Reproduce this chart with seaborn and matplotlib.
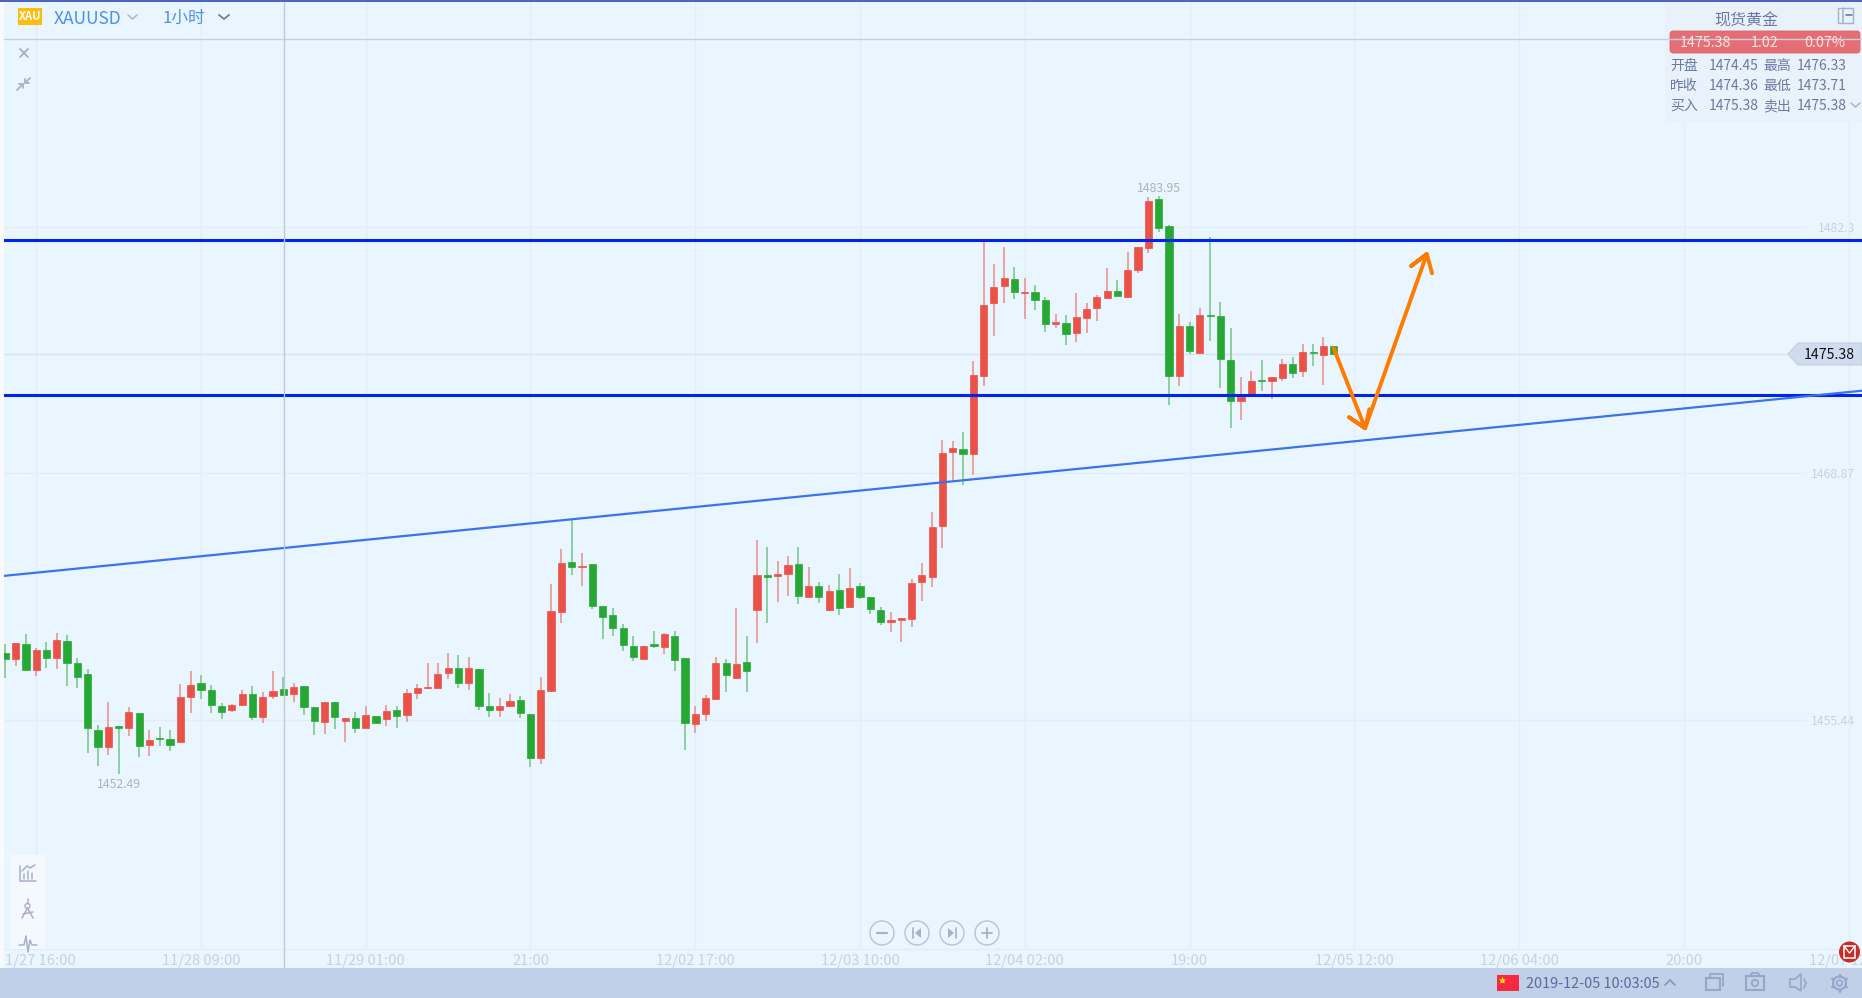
import numpy as np
import pandas as pd
import matplotlib
matplotlib.use("Agg")
import matplotlib.pyplot as plt
from matplotlib.patches import Rectangle, FancyBboxPatch, Polygon, Ellipse, Circle
import seaborn as sns

# XAUUSD 1h candles
open_px = [1459.11,1458.75,1459.60,1458.17,1459.27,1458.80,1459.76,1458.56,1457.97,1454.92,
           1453.96,1455.14,1454.99,1455.84,1454.06,1454.48,1454.43,1454.23,1456.68,1457.48,
           1457.09,1456.19,1455.97,1456.24,1456.88,1455.59,1456.73,1457.15,1456.84,1457.31,
           1456.17,1455.32,1456.41,1455.37,1455.57,1454.99,1455.68,1455.50,1456.01,1455.72,
           1456.91,1457.17,1457.17,1457.98,1458.29,1457.44,1458.24,1456.22,1455.97,1456.19,
           1456.55,1455.79,1453.36,1457.00,1461.32,1464.03,1463.75,1463.95,1461.67,1461.18,
           1460.47,1459.49,1458.78,1459.56,1459.40,1460.02,1458.84,1455.21,1455.75,1456.59,
           1458.57,1457.75,1458.62,1461.41,1463.36,1463.27,1463.37,1463.96,1462.12,1462.76,
           1461.41,1462.54,1461.58,1462.76,1462.16,1461.45,1460.76,1460.87,1460.94,1462.96,
           1463.21,1466.01,1470.02,1470.18,1469.91,1474.16,1478.13,1479.06,1479.47,1478.68,
           1478.77,1478.33,1476.99,1477.08,1476.50,1477.32,1477.86,1478.40,1478.82,1478.49,
           1479.93,1481.13,1483.83,1482.31,1474.18,1476.92,1475.45,1477.51,1477.46,1475.06,
           1472.80,1473.12,1473.98,1473.89,1474.05,1474.85,1474.43,1475.50,1475.32,1475.83]
high_px = [1459.58,1459.65,1460.11,1459.35,1459.67,1460.16,1460.05,1458.80,1458.20,1455.15,
           1456.42,1455.14,1456.13,1455.84,1454.88,1455.04,1454.88,1457.39,1458.09,1457.88,
           1457.33,1456.35,1456.30,1457.06,1457.28,1456.95,1458.09,1457.77,1457.44,1457.31,
           1456.17,1456.44,1456.41,1455.57,1455.86,1456.19,1455.68,1456.24,1456.21,1457.11,
           1457.40,1458.53,1458.53,1459.07,1458.96,1458.86,1458.24,1456.90,1456.62,1456.84,
           1456.73,1455.79,1457.77,1462.83,1464.73,1466.33,1464.52,1463.95,1461.67,1461.52,
           1460.65,1460.02,1459.49,1460.29,1460.16,1460.29,1458.84,1456.21,1456.79,1458.86,
           1458.77,1461.54,1460.02,1465.23,1464.84,1464.10,1464.37,1464.84,1463.76,1462.94,
           1462.78,1463.37,1463.70,1462.88,1462.16,1461.58,1461.31,1460.98,1463.12,1463.97,
           1466.75,1470.69,1470.64,1471.11,1474.99,1481.49,1480.27,1481.20,1480.11,1479.51,
           1479.11,1478.49,1477.55,1477.50,1478.69,1478.13,1478.57,1480.06,1479.38,1480.93,
           1481.18,1483.90,1483.95,1482.38,1477.53,1477.10,1477.88,1481.72,1478.19,1476.77,
           1474.12,1474.43,1475.05,1474.12,1475.10,1475.19,1475.92,1475.92,1476.28,1475.83]
low_px = [1457.75,1458.40,1458.17,1457.86,1458.29,1458.24,1457.31,1457.20,1453.67,1452.96,
          1453.56,1452.49,1454.59,1453.45,1453.50,1454.05,1453.77,1454.17,1455.84,1456.59,
          1455.84,1455.52,1455.90,1456.22,1455.46,1455.30,1456.60,1456.79,1456.44,1455.73,
          1454.65,1454.70,1454.97,1454.26,1454.75,1454.99,1455.24,1455.14,1455.03,1455.35,
          1456.60,1457.15,1457.15,1457.68,1457.20,1457.09,1456.01,1455.63,1455.63,1456.13,
          1455.57,1452.90,1453.07,1456.99,1460.74,1463.36,1462.76,1461.50,1459.87,1460.03,
          1459.20,1458.67,1458.78,1459.38,1459.04,1458.13,1453.81,1454.74,1455.41,1456.55,
          1456.97,1457.69,1456.97,1459.64,1460.73,1461.87,1462.20,1461.76,1462.12,1461.81,
          1461.40,1461.16,1461.56,1462.03,1461.22,1460.62,1460.24,1459.69,1460.51,1461.92,
          1462.69,1464.81,1468.42,1468.24,1468.79,1473.63,1476.37,1478.17,1478.37,1477.28,
          1477.77,1476.57,1476.81,1475.86,1476.03,1476.52,1477.17,1478.40,1478.51,1478.49,
          1479.80,1480.89,1482.03,1472.60,1473.63,1475.39,1475.45,1476.08,1473.52,1471.36,
          1471.78,1473.12,1473.36,1472.92,1473.92,1474.07,1474.12,1474.74,1473.69,1475.38]
close_px = [1458.75,1459.65,1458.17,1459.27,1458.80,1459.82,1458.53,1457.77,1454.99,1453.96,
            1455.08,1455.01,1455.90,1454.01,1454.37,1454.39,1454.06,1456.71,1457.37,1457.06,
            1456.26,1455.90,1456.26,1456.88,1455.59,1456.71,1457.02,1456.79,1457.26,1456.13,
            1455.37,1456.44,1455.59,1455.57,1454.99,1455.73,1455.28,1455.95,1455.64,1456.93,
            1457.20,1457.26,1457.97,1458.29,1457.44,1458.29,1456.21,1455.97,1456.22,1456.50,
            1455.81,1453.36,1457.08,1461.38,1464.01,1463.75,1463.85,1461.65,1461.05,1460.45,
            1459.51,1458.87,1459.49,1459.46,1460.11,1458.69,1455.28,1455.79,1456.66,1458.57,
            1457.89,1458.51,1458.09,1463.36,1463.23,1463.41,1463.90,1462.20,1462.76,1462.14,
            1462.49,1461.52,1462.65,1462.12,1461.47,1460.76,1460.91,1460.98,1462.92,1463.36,
            1465.97,1470.00,1470.27,1469.91,1474.25,1478.06,1479.04,1479.53,1478.73,1478.77,
            1478.31,1477.01,1477.13,1476.44,1477.41,1477.84,1478.49,1478.82,1478.51,1479.96,
            1481.18,1483.72,1482.23,1474.18,1476.92,1475.52,1477.51,1477.44,1475.10,1472.81,
            1473.01,1473.92,1473.89,1474.10,1474.85,1474.32,1475.50,1475.41,1475.83,1475.38]

x_tick_pos = [3, 19, 35, 51, 67, 83, 99, 115, 131, 147, 163, 179]
x_tick_labels = ["11/27 16:00", "11/28 09:00", "11/29 01:00", "21:00", "12/02 17:00", "12/03 10:00",
                 "12/04 02:00", "19:00", "12/05 12:00", "12/06 04:00", "20:00", "12/07 12:00"]
y_ticks = [1482.3, 1468.87, 1455.44]
last_price = 1475.38
levels = [1481.56, 1473.12]
trend_x = [-0.13, 180.3]
trend_y = [1463.29, 1473.37]
arrow_down_x = [129.0, 132.05, 130.5, 132.05, 132.46]
arrow_down_y = [1475.68, 1471.33, 1471.92, 1471.33, 1472.36]
arrow_up_x = [132.05, 138.04, 136.52, 138.04, 138.55]
arrow_up_y = [1471.33, 1480.81, 1480.16, 1480.81, 1479.76]

BG = "#eaf6ff"
GRID = "#e4edf5"
UP = "#ea5147"
DOWN = "#27a834"
UP_WICK = "#ea9d9a"
DOWN_WICK = "#86cc98"
TICK = "#c6d1e2"
PANEL_TEXT = "#6b7aa5"
ICON = "#a5b0cd"

sns.set_theme(style="white")
plt.rcParams["font.family"] = ["Noto Sans CJK SC", "DejaVu Sans"]

df = pd.DataFrame({"open": open_px, "high": high_px, "low": low_px, "close": close_px})
df["i"] = df.index
df["up"] = df["close"] > df["open"]

fig = plt.figure(figsize=(18.62, 9.98), dpi=100, facecolor=BG)
ax = fig.add_axes([0, 0, 1, 1], facecolor=BG)
ax.set_xlim(-0.515, 180.3)
ax.set_ylim(1440.31, 1494.64)
sns.despine(ax=ax, left=True, bottom=True)

# grid stops short of the price scale
grid_bottom = 1442.98
ax.vlines(x_tick_pos, grid_bottom, 1494.6, color=GRID, lw=1, zorder=1)
ax.hlines(y_ticks, -0.13, 174.9, color=GRID, lw=1, zorder=1)
ax.hlines(last_price, -0.13, 174.9, color="#d9e3ee", lw=1, zorder=1)
ax.hlines(grid_bottom, -0.13, 180.3, color=GRID, lw=1, zorder=1)

# candles
ax.vlines(df["i"], df["low"], df["high"], color=df["up"].map({True: UP_WICK, False: DOWN_WICK}), lw=1.3, zorder=2)
body_low = df[["open", "close"]].min(axis=1)
body_high = df[["open", "close"]].max(axis=1)
ax.bar(df["i"], body_high - body_low, bottom=body_low, width=0.7,
       color=df["up"].map({True: UP, False: DOWN}), edgecolor=df["up"].map({True: UP, False: DOWN}), lw=0.5, zorder=3)

# drawn lines
for lv in levels:
    sns.lineplot(x=[-0.13, 180.3], y=[lv, lv], color="#0024f0", lw=2.2, ax=ax, zorder=4)
sns.lineplot(x=trend_x, y=trend_y, color="#3a73f2", lw=1.6, ax=ax, zorder=4)
sns.lineplot(x=arrow_down_x, y=arrow_down_y, sort=False, estimator=None, color="#ff7b00", lw=2.8, ax=ax, zorder=5)
sns.lineplot(x=arrow_up_x, y=arrow_up_y, sort=False, estimator=None, color="#ff7b00", lw=2.8, ax=ax, zorder=5)

# ticks sit inside the picture
ax.set_xticks(x_tick_pos, x_tick_labels)
ax.yaxis.tick_right()
ax.set_yticks(y_ticks, [str(v) for v in y_ticks])
ax.tick_params(axis="x", length=0, pad=-32, labelsize=10.6, labelcolor=TICK)
ax.tick_params(axis="y", length=0, pad=-5, labelsize=8.8, labelcolor=TICK)
for t in ax.get_yticklabels():
    t.set_ha("right")

ax.text(df["i"][112], 1484.0, "1483.95", ha="center", va="bottom", fontsize=8.8, color="#adb2b8", zorder=6)
ax.text(df["i"][11], 1452.27, "1452.49", ha="center", va="top", fontsize=8.8, color="#adb2b8", zorder=6)

# window furniture, in pixels
ui = fig.add_axes([0, 0, 1, 1], facecolor="none", zorder=5)
ui.set_xlim(0, 1862)
ui.set_ylim(998, 0)
ui.axis("off")

def line(xs, ys, color=ICON, lw=1.1):
    ui.plot(xs, ys, color=color, lw=lw, solid_capstyle="round")

ui.add_patch(Rectangle((0, 0), 4, 968, fc="#f7fbfe", ec="none"))
ui.add_patch(Rectangle((0, 0), 1862, 2, fc="#4f63c0", ec="none"))
ui.add_patch(Rectangle((0, 968), 1862, 30, fc="#c1cfe8", ec="none"))
line([4, 1862], [39, 39], "#c5cfe0", 1)
line([283.5, 283.5], [2, 967], "#bcc8d8", 1)

# header
ui.add_patch(Rectangle((18, 8), 24, 17, fc="#fdbd10", ec="none"))
ui.text(30, 16.5, "XAU", ha="center", va="center", fontsize=8, fontweight="bold", color="white")
ui.text(54, 18.5, "XAUUSD", ha="left", va="center", fontsize=12.5, color="#4a90ee")
line([128, 132.5, 137], [15, 19, 15], "#a9b4c8")
ui.text(163, 18.5, "1小时", ha="left", va="center", fontsize=12, color="#4a90ee")
line([219, 224, 229], [15, 19, 15], "#6f7c95", 1.3)
line([20, 28], [49, 57], ICON, 1.3)
line([20, 28], [57, 49], ICON, 1.3)
# compress arrows
line([17, 23], [90, 84], ICON, 1.3)
line([19, 23, 23], [84, 84, 88], ICON, 1.3)
line([25, 30], [83, 78], ICON, 1.3)
line([25, 25, 29], [79, 83, 83], ICON, 1.3)

# quote panel
ui.add_patch(Rectangle((1665, 2), 197, 120, fc="#e9f1fa", ec="none"))
ui.text(1746, 21.5, "现货黄金", ha="center", va="center", fontsize=11.5, color=PANEL_TEXT)
ui.add_patch(Rectangle((1838, 8), 15, 15, fc="none", ec=ICON, lw=1))
line([1843, 1843], [8, 23])
line([1846, 1852], [15, 15], "#5f6e9a")
ui.add_patch(FancyBboxPatch((1672, 33), 186, 18, boxstyle="round,pad=2,rounding_size=3", fc="#e56e74", ec="#d9666c", lw=0.6))
for xc, s in zip([1705, 1765, 1825], ["1475.38", "1.02", "0.07%"]):
    ui.text(xc, 43, s, ha="center", va="center", fontsize=10.3, color="#fbe4e5")
rows = [("开盘", "1474.45", "最高", "1476.33"), ("昨收", "1474.36", "最低", "1473.71"), ("买入", "1475.38", "卖出", "1475.38")]
for y, row in zip([66, 86, 106], rows):
    for xl, s in zip([1670, 1709, 1763, 1797], row):
        ui.text(xl, y, s, ha="left", va="center", fontsize=10, color=PANEL_TEXT)
line([1851, 1855.5, 1860], [103, 107, 103], "#a9b4c8")

# last price tag
ui.add_patch(Polygon([(1788, 354), (1798, 343), (1862, 343), (1862, 365), (1798, 365)], fc="#cfdcf0", ec="#c4cedd", lw=0.8))
ui.text(1855, 355, "1475.38", ha="right", va="center", fontsize=10.2, color="#111111")

# left tools
ui.add_patch(Rectangle((10, 855), 36, 94, fc="#f3f9fe", ec="none"))
line([20, 20, 36], [866, 881, 881])
for xb, yt in zip([24, 28, 32], [874, 871, 873]):
    line([xb, xb], [yt, 879])
line([22, 27, 30, 35], [871, 866, 868, 865])
ui.add_patch(Circle((27.5, 906), 2.5, fc="none", ec=ICON, lw=1))
line([27.5, 22, 22], [908, 918, 918])
line([27.5, 33], [908, 918])
line([27.5, 27.5], [899, 903])
line([23, 33], [914, 912])
line([19, 24, 26, 28, 30, 32, 37], [945, 945, 936, 952, 940, 945, 945])

# chart buttons
for xc in [882, 917, 952, 987]:
    ui.add_patch(Ellipse((xc, 933), 24, 24, fc="none", ec="#b6c2d9", lw=1))
line([877, 887], [933, 933], "#a5b0cd", 1.6)
line([913, 913], [928, 938], "#a5b0cd", 1.2)
ui.add_patch(Polygon([(921, 928), (921, 938), (915, 933)], fc="#a5b0cd", ec="none"))
line([956, 956], [928, 938], "#a5b0cd", 1.2)
ui.add_patch(Polygon([(948, 928), (948, 938), (954, 933)], fc="#a5b0cd", ec="none"))
line([982, 992], [933, 933], "#a5b0cd", 1.3)
line([987, 987], [928, 938], "#a5b0cd", 1.3)

# status bar
ui.add_patch(Rectangle((1497, 975), 22, 16, fc="#f5293f", ec="none"))
ui.plot([1502], [980], marker="*", ms=6, color="#ffe600", mec="none")
ui.text(1526, 984, "2019-12-05 10:03:05", ha="left", va="center", fontsize=10.4, color="#5b6a9c")
line([1665, 1670, 1675], [985, 980, 985], "#8693ba", 1.2)
ui.add_patch(Rectangle((1706, 978), 14, 12, fc="none", ec="#98a5c8", lw=1.5))
line([1710, 1710, 1723, 1723], [977, 974, 974, 986], "#98a5c8", 1.3)
ui.add_patch(Rectangle((1746, 976), 18, 14, fc="none", ec="#98a5c8", lw=1.5))
ui.add_patch(Circle((1755, 983), 3.2, fc="none", ec="#98a5c8", lw=1.3))
line([1750, 1752, 1758, 1760], [976, 973, 973, 976], "#98a5c8", 1.3)
ui.add_patch(Polygon([(1790, 979), (1795, 979), (1801, 974), (1801, 991), (1795, 987), (1790, 987)], fc="none", ec="#98a5c8", lw=1.2))
line([1804, 1806, 1804], [979, 983, 988], "#98a5c8", 1.2)
ui.add_patch(Circle((1839.5, 983), 6.5, fc="none", ec="#98a5c8", lw=1.5))
ui.add_patch(Circle((1839.5, 983), 2.8, fc="none", ec="#98a5c8", lw=1.2))
for a in np.arange(0, 360, 60):
    ca, sa = np.cos(np.radians(a + 30)), np.sin(np.radians(a + 30))
    line([1839.5 + 6.5 * ca, 1839.5 + 8.5 * ca], [983 + 6.5 * sa, 983 + 8.5 * sa], "#98a5c8", 1.6)

ui.add_patch(Circle((1849.5, 952), 10.5, fc="#c62d28", ec="none"))
ui.add_patch(Rectangle((1844, 946), 11, 12, fc="none", ec="white", lw=1.1))
line([1844, 1849.5, 1855], [946, 953, 946], "white", 1)

fig.savefig("out.png", dpi=100, facecolor=BG)
